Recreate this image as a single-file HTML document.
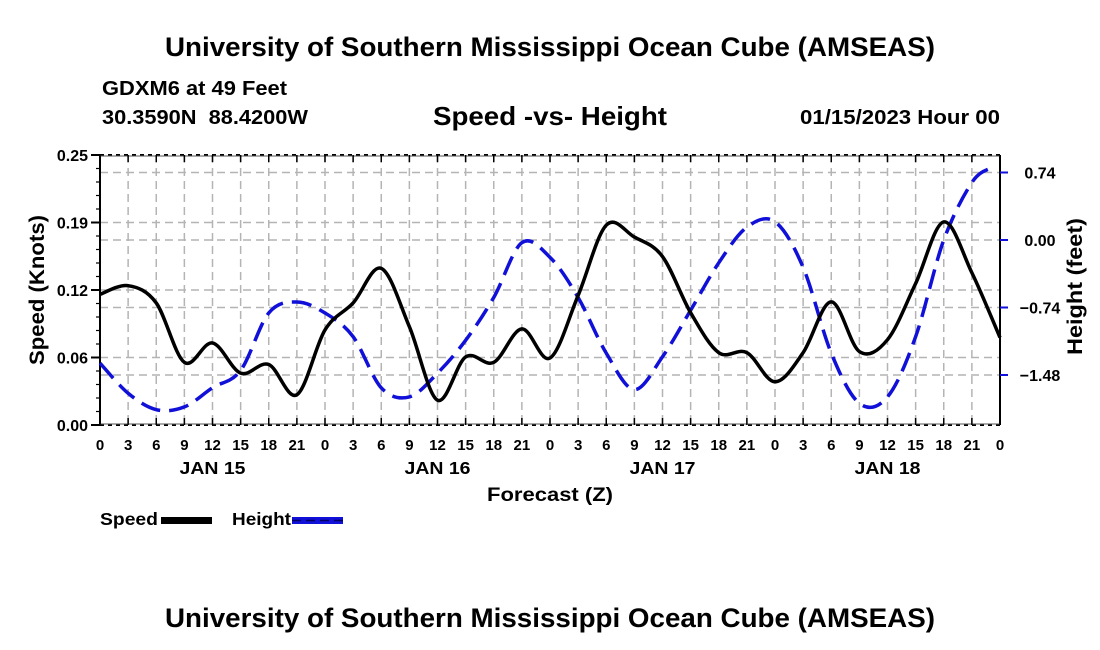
<!DOCTYPE html>
<html><head><meta charset="utf-8"><style>
html,body{margin:0;padding:0;background:#fff;}
svg{display:block;font-family:"Liberation Sans",Arial,sans-serif;font-weight:bold;}
</style></head><body>
<svg id="chart" width="1100" height="650" viewBox="0 0 1100 650">
<text x="165" y="56" font-size="27" textLength="770" lengthAdjust="spacingAndGlyphs">University of Southern Mississippi Ocean Cube (AMSEAS)</text>
<text x="102" y="95" font-size="20" textLength="185" lengthAdjust="spacingAndGlyphs">GDXM6 at 49 Feet</text>
<text x="102" y="124" font-size="20" textLength="206" lengthAdjust="spacingAndGlyphs" xml:space="preserve">30.3590N  88.4200W</text>
<text x="433" y="125" font-size="26" textLength="234" lengthAdjust="spacingAndGlyphs">Speed -vs- Height</text>
<text x="800" y="124" font-size="20" textLength="200" lengthAdjust="spacingAndGlyphs">01/15/2023 Hour 00</text>
<g id="grid"></g>
<g id="axes"></g>
<g id="series"></g>
<text transform="translate(44,365) rotate(-90)" font-size="21" textLength="150" lengthAdjust="spacingAndGlyphs">Speed (Knots)</text>
<text transform="translate(1082,355) rotate(-90)" font-size="21" textLength="137" lengthAdjust="spacingAndGlyphs">Height (feet)</text>
<text x="487" y="501" font-size="19.5" textLength="126" lengthAdjust="spacingAndGlyphs">Forecast (Z)</text>
<g>
<text x="100" y="525" font-size="17.5" textLength="58" lengthAdjust="spacingAndGlyphs">Speed</text>
<rect x="161" y="517" width="51" height="7" fill="#000"/>
<text x="232" y="525" font-size="17.5" textLength="59" lengthAdjust="spacingAndGlyphs">Height</text>
<rect x="292" y="517" width="51" height="7" fill="#1010d8"/>
<line x1="292" y1="520.5" x2="343" y2="520.5" stroke="#000060" stroke-width="1.5" stroke-dasharray="9,5"/>
</g>
<text x="165" y="627" font-size="27" textLength="770" lengthAdjust="spacingAndGlyphs">University of Southern Mississippi Ocean Cube (AMSEAS)</text>
</svg>
<script>
const hours = [0,3,6,9,12,15,18,21,24,27,30,33,36,39,42,45,48,51,54,57,60,63,66,69,72,75,78,81,84,87,90,93,96];
const speedValues = [0.121,0.129,0.113,0.058,0.076,0.048,0.056,0.028,0.088,0.113,0.145,0.091,0.023,0.063,0.058,0.089,0.062,0.120,0.185,0.174,0.156,0.104,0.067,0.067,0.040,0.067,0.114,0.068,0.079,0.131,0.188,0.141,0.081];
const heightHours = [0,3,6,9,12,15,18,21,24,27,30,33,36,39,42,45,48,51,54,57,60,63,66,69,72,75,78,81,84,87,90,93,95];
const heightValues = [-1.35,-1.68,-1.86,-1.83,-1.62,-1.43,-0.80,-0.68,-0.80,-1.06,-1.62,-1.72,-1.46,-1.10,-0.63,-0.03,-0.19,-0.63,-1.24,-1.64,-1.28,-0.77,-0.25,0.14,0.20,-0.30,-1.24,-1.79,-1.72,-1.06,0.00,0.63,0.79];
const speedTicks = [0,0.0625,0.125,0.1875,0.25];
const speedTickLabels = ["0.00","0.06","0.12","0.19","0.25"];
const heightTicks = [0.74,0,-0.74,-1.48];
const heightTickLabels = ["0.74","0.00","\u22120.74","\u22121.48"];
const dayLabels = ["JAN 15","JAN 16","JAN 17","JAN 18"];

const L=100,R=1000,T=155,B=425;
const xS=h=>L+(h/96)*(R-L);
const yS=v=>B-(v/0.25)*(B-T);
const yH=v=>240-v*(67.5/0.74);
const NS="http://www.w3.org/2000/svg";
function mk(tag,parent,attrs){const e=document.createElementNS(NS,tag);for(const k in attrs)e.setAttribute(k,attrs[k]);parent.appendChild(e);return e;}
const grid=document.getElementById('grid'),axes=document.getElementById('axes'),series=document.getElementById('series');

for(let h=3;h<96;h+=3){
  const gl=mk('line',grid,{x1:xS(h),x2:xS(h),y1:T,y2:B,stroke:'#b4b4b4','stroke-width':1.5,'stroke-dasharray':'8,5'});
  
  
}
speedTicks.slice(1,4).forEach(v=>{
  const gl=mk('line',grid,{x1:L,x2:R,y1:yS(v),y2:yS(v),stroke:'#b4b4b4','stroke-width':1.5,'stroke-dasharray':'8,5'});
  
  
});
heightTicks.forEach(v=>{
  const gl=mk('line',grid,{x1:L,x2:R,y1:yH(v),y2:yH(v),stroke:'#b4b4b4','stroke-width':1.5,'stroke-dasharray':'8,5'});
  
  
});

mk('line',axes,{x1:L,x2:L,y1:T,y2:B,stroke:'#000','stroke-width':2});
mk('line',axes,{x1:R,x2:R,y1:T,y2:B,stroke:'#000','stroke-width':2});
mk('line',axes,{x1:L,x2:R,y1:T,y2:T,stroke:'#000','stroke-width':2,'stroke-dasharray':'4,4'});
mk('line',axes,{x1:L,x2:R,y1:B,y2:B,stroke:'#000','stroke-width':2,'stroke-dasharray':'4,4'});
mk('line',axes,{x1:L,x2:R,y1:T+1,y2:T+1,stroke:'#555','stroke-width':1});
mk('line',axes,{x1:L,x2:R,y1:B-1,y2:B-1,stroke:'#555','stroke-width':1});

for(let h=0;h<=96;h+=3){
  mk('line',axes,{x1:xS(h),x2:xS(h),y1:B,y2:B-7,stroke:'#000','stroke-width':1.5});
  mk('line',axes,{x1:xS(h),x2:xS(h),y1:T,y2:T+7,stroke:'#000','stroke-width':1.5});
  const t=mk('text',axes,{x:xS(h),y:450,'text-anchor':'middle','font-size':15});
  
  
  t.textContent=String(h%24);
}
dayLabels.forEach((d,i)=>{
  const t=mk('text',axes,{x:xS(12+24*i)-33,y:474,'font-size':17.5,textLength:66,lengthAdjust:'spacingAndGlyphs'});
  
  
  t.textContent=d;
});
for(let v=0;v<=0.25001;v+=0.0125){
  mk('line',axes,{x1:L,x2:L-4,y1:yS(v),y2:yS(v),stroke:'#000','stroke-width':1.2});
}
speedTicks.forEach((v,i)=>{
  mk('line',axes,{x1:L,x2:L-9,y1:yS(v),y2:yS(v),stroke:'#000','stroke-width':2});
  const t=mk('text',axes,{x:88,y:yS(v)+6,'text-anchor':'end','font-size':16});
  
  
  t.textContent=speedTickLabels[i];
});
heightTicks.forEach((v,i)=>{
  mk('line',axes,{x1:R,x2:R+8,y1:yH(v),y2:yH(v),stroke:'#1010d8','stroke-width':2});
  const t=mk('text',axes,{x:1040,y:yH(v)+6,'text-anchor':'middle','font-size':16});
  
  
  t.textContent=heightTickLabels[i];
});

function smooth(pts){
  let d='M'+pts[0][0]+','+pts[0][1];
  for(let i=0;i<pts.length-1;i++){
    const p0=pts[Math.max(0,i-1)],p1=pts[i],p2=pts[i+1],p3=pts[Math.min(pts.length-1,i+2)];
    const c1=[p1[0]+(p2[0]-p0[0])/6,p1[1]+(p2[1]-p0[1])/6];
    const c2=[p2[0]-(p3[0]-p1[0])/6,p2[1]-(p3[1]-p1[1])/6];
    d+=' C'+c1+' '+c2+' '+p2;
  }
  return d;
}
const hp=mk('path',series,{d:smooth(heightHours.map((h,i)=>[xS(h),yH(heightValues[i])])),fill:'none',stroke:'#1010d8','stroke-width':3.5,'stroke-dasharray':'20,9'});


const sp=mk('path',series,{d:smooth(hours.map((h,i)=>[xS(h),yS(speedValues[i])])),fill:'none',stroke:'#000','stroke-width':3.5});


</script>
</body></html>
